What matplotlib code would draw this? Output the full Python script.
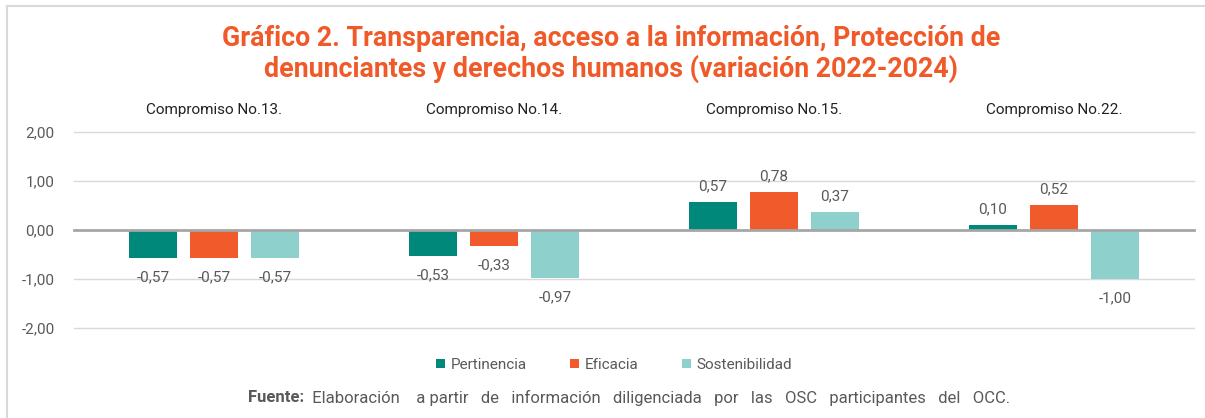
import matplotlib
matplotlib.use("Agg")
import matplotlib.pyplot as plt
import numpy as np
from matplotlib.patches import Patch
from matplotlib.lines import Line2D

groups = ["Compromiso No.13.", "Compromiso No.14.", "Compromiso No.15.", "Compromiso No.22."]
series = ["Pertinencia", "Eficacia", "Sostenibilidad"]
pertinencia = [-0.57, -0.53, 0.57, 0.10]
eficacia = [-0.57, -0.33, 0.78, 0.52]
sostenibilidad = [-0.57, -0.97, 0.37, -1.00]
yticks = [-2, -1, 0, 1, 2]

colors = ["#00897B", "#F15A2B", "#8ED1CC"]
txt = "#595959"

plt.rcParams["font.family"] = ["Roboto", "DejaVu Sans"]

fig = plt.figure(figsize=(12.05, 4.18), dpi=100)
# frame lines (top and left only)
fig.add_artist(Line2D([7.5 / 1205, 1.0], [1 - 5.5 / 418] * 2, transform=fig.transFigure,
                      color="#D9D9D9", lw=1.5))
fig.add_artist(Line2D([7.5 / 1205] * 2, [0, 1 - 5.5 / 418], transform=fig.transFigure,
                      color="#D9D9D9", lw=1.5))

ax = fig.add_axes([74 / 1205, 90 / 418, 1120 / 1205, 196 / 418])
x = np.arange(len(groups))
w = 0.172
step = 0.218
for i, (vals, c) in enumerate(zip([pertinencia, eficacia, sostenibilidad], colors)):
    bars = ax.bar(x + (i - 1) * step, vals, width=w, color=c, zorder=3)
    for b, v in zip(bars, vals):
        lbl = f"{v:.2f}".replace(".", ",")
        if v >= 0:
            ax.annotate(lbl, (b.get_x() + b.get_width() / 2, v), xytext=(0, 6),
                        textcoords="offset points", ha="center", va="bottom",
                        fontsize=11, color=txt)
        else:
            ax.annotate(lbl, (b.get_x() + b.get_width() / 2, v), xytext=(0, -9),
                        textcoords="offset points", ha="center", va="top",
                        fontsize=11, color=txt)

ax.set_xlim(-0.5, len(groups) - 0.5)
ax.set_ylim(-2, 2)
ax.set_yticks(yticks)
ax.set_yticklabels([f"{t:.2f}".replace(".", ",") for t in yticks], fontsize=11, color=txt)
ax.set_xticks([])
ax.tick_params(axis="y", length=0, pad=14)
for s in ax.spines.values():
    s.set_visible(False)
for t in yticks:
    if t == 0:
        ax.axhline(t, color="#A6A6A6", lw=2, zorder=4, clip_on=False)
    else:
        ax.axhline(t, color="#D9D9D9", lw=1, zorder=1, clip_on=False)

for i, g in enumerate(groups):
    ax.text(i, 2.45, g, ha="center", va="center", fontsize=11, color="#222222")

fig.text(0.507, 1 - 54 / 418, "Gráfico 2. Transparencia, acceso a la información, Protección de\n"
         "denunciantes y derechos humanos (variación 2022-2024)",
         ha="center", va="center", fontsize=19.3, fontweight="bold", color="#F05A28",
         linespacing=1.15)

handles = [Patch(facecolor=c, label=s) for s, c in zip(series, colors)]
fig.legend(handles=handles, loc="center", bbox_to_anchor=(614 / 1205, 1 - 365 / 418),
           ncol=3, frameon=False, fontsize=11, handlelength=0.6, handleheight=0.6,
           handletextpad=0.4, columnspacing=2.8, labelcolor=txt)

f1 = fig.text(248 / 1205, 1 - 398 / 418, "Fuente:", ha="left", va="center",
              fontsize=12, fontweight="bold", color=txt)
ax.annotate("  Elaboración    a partir   de   información   diligenciada   por   las   OSC   participantes   del   OCC.",
            xy=(1, 0.5), xycoords=f1, ha="left", va="center", fontsize=12, color=txt)

fig.savefig("out.png", dpi=100)
